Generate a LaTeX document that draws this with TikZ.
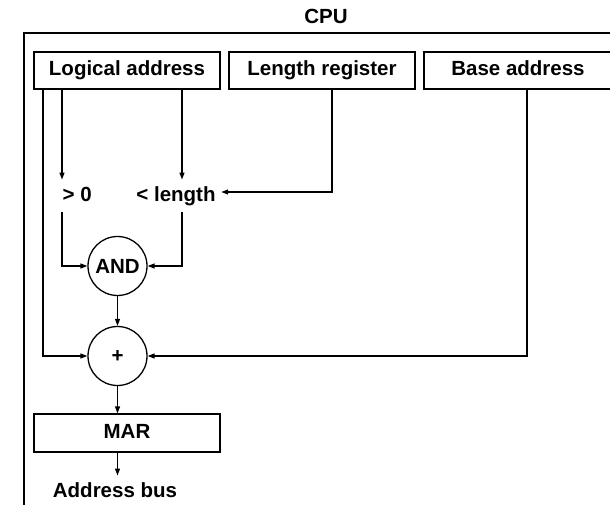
\documentclass[tikz,border=0pt]{standalone}
\usepackage{fontspec}
\setmainfont{Liberation Sans}
\usetikzlibrary{arrows.meta}
\begin{document}
\begin{tikzpicture}[x=1pt,y=-1pt, line width=1.3pt,
  lbl/.style={font=\fontsize{20.5}{24}\selectfont\bfseries, inner sep=0pt},
  reg/.style={lbl, draw, minimum width=186pt, minimum height=37pt, text height=14.8pt, text depth=4pt},
  cmp/.style={lbl, inner xsep=5pt, inner ysep=6pt, text height=14.8pt, text depth=4pt},
  op/.style={lbl, draw, circle, minimum size=59pt},
  arr/.style={-{Triangle[length=7pt,width=5pt]}},
]
\clip (0,0) rectangle (610,505);
\node[lbl, anchor=base] (cpu) at (326,24) {CPU};
\coordinate (fbl) at (24,506);
\coordinate (ftl) at (24,33);
\coordinate (ftr) at (614,33);
\draw (fbl) -- (ftl) -- (ftr);
\node[reg] (la) at (127,70.5) {Logical address};
\node[reg] (lr) at (322,70.5) {Length register};
\node[reg, minimum width=188pt] (ba) at (518,70.5) {Base address};
\node[cmp, anchor=base west, inner xsep=0pt] (gt) at (62,201) {> 0};
\node[cmp, anchor=base] (lt) at (176,201) {< length};
\node[op] (and) at (117.5,266) {AND};
\node[op] (plus) at (117.5,356) {+};
\node[reg, minimum height=38pt] (mar) at (127,433) {MAR};
\node[cmp, anchor=base] (bus) at (115,497) {Address bus};
% connectors
\draw[arr] (la.south -| gt.west) -- (gt.north west);
\draw[arr] ([xshift=55pt]la.south) coordinate (la2) -- (la2 |- lt.north);
\draw[arr] ([xshift=10pt]lr.south) |- ([yshift=9pt]lt.base east);
\draw[arr] (gt.south west) |- (and.west);
\draw[arr] (la2 |- lt.south) |- (and.east);
\draw[arr] (and.south) -- (plus.north);
\draw[arr] ([xshift=-84pt]la.south) |- (plus.west);
\draw[arr] ([xshift=9pt]ba.south) |- (plus.east);
\draw[arr] (plus.south) -- (plus.south |- mar.north);
\draw[arr] (plus.south |- mar.south) -- (plus.south |- bus.north);
\end{tikzpicture}
\end{document}
